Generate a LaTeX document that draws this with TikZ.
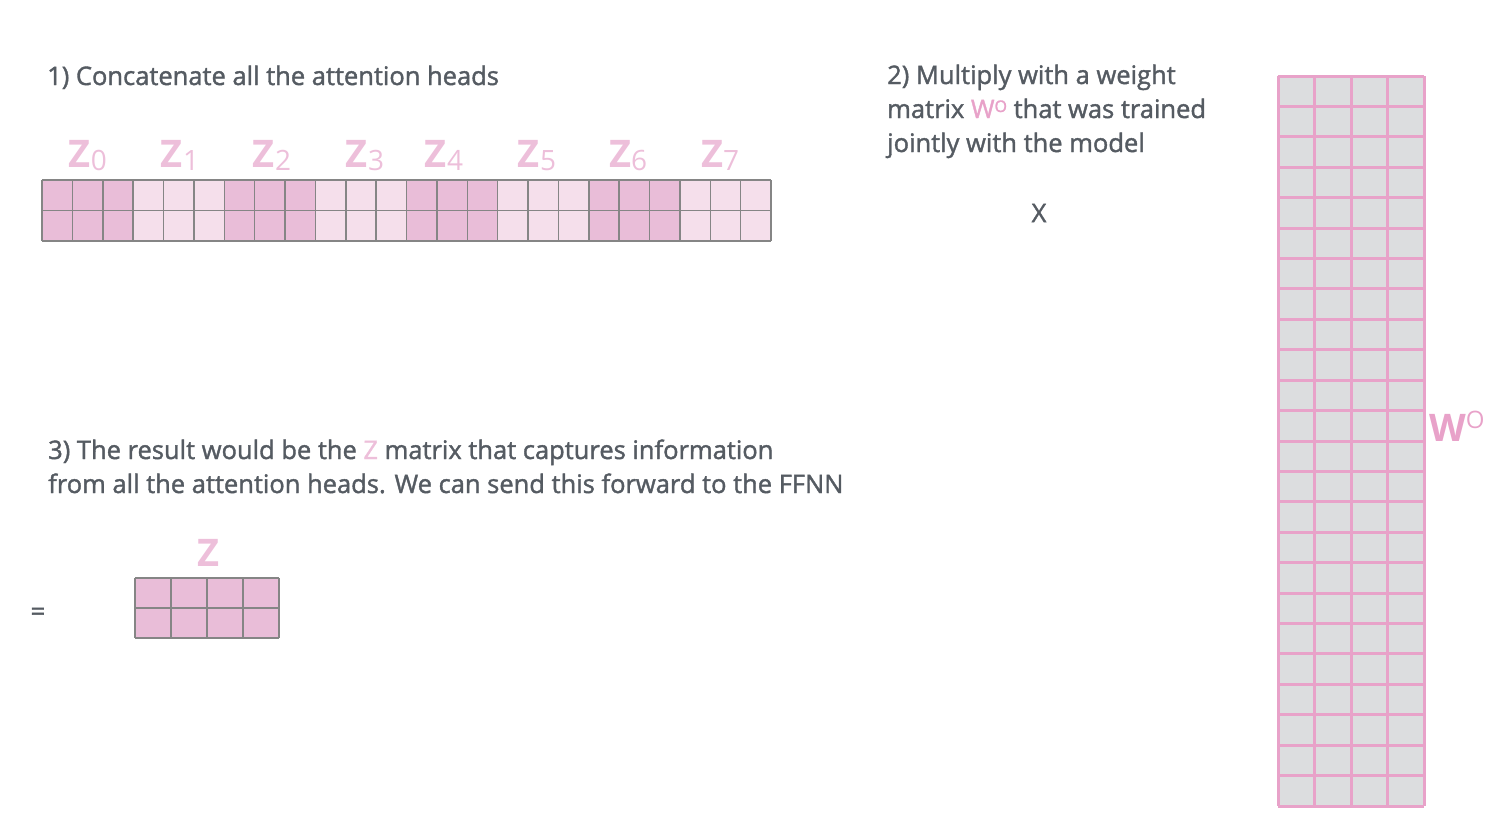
\documentclass[tikz,border=0pt]{standalone}
\usepackage{fontspec}
\setmainfont{Open Sans}
\newfontfamily\captionfont{Open Sans}[FakeBold=1.5]
\usetikzlibrary{positioning}
\definecolor{textgray}{HTML}{555B62}
\definecolor{zpink}{HTML}{EDBFDA}
\definecolor{wpink}{HTML}{E8A2C9}
\definecolor{darkcell}{HTML}{E9BDD8}
\definecolor{lightcell}{HTML}{F5DFEB}
\definecolor{cellgray}{HTML}{858585}
\definecolor{wcell}{HTML}{DCDDDF}
\tikzstyle{caption} = [anchor=base west, align=left, inner sep=0pt, text=textgray, font=\captionfont\fontsize{25.5}{34}\selectfont]
\tikzstyle{headlabel} = [anchor=base, inner sep=0pt, text=zpink, font=\fontsize{38}{38}\selectfont]
\tikzstyle{cellline} = [draw=cellgray, line width=1.5pt]
\tikzstyle{wline} = [draw=wpink, line width=3pt]
\newcommand{\headname}[1]{{\bfseries Z}\raisebox{-3pt}{\fontsize{28}{28}\selectfont #1}}

\begin{document}
\begin{tikzpicture}[x=1pt, y=-1pt]
    \useasboundingbox (0,0) rectangle (1504,830);
    % Captions
    \node [caption] (concat) at (47,85) {1) Concatenate all the attention heads};
    \node [caption] (multiply) at (887,152) {2) Multiply with a weight\\matrix \textcolor{wpink}{W\raisebox{6pt}{\fontsize{16}{16}\selectfont O}} that was trained\\jointly with the model};
    \node [caption] (result) at (48,493) {3) The result would be the \textcolor{zpink}{Z} matrix that captures information\\from all the attention heads. We can send this forward to the FFNN};

    % Concatenated heads
    \foreach \h in {0,2,4,6}
        \fill [darkcell] ({42+\h*91.125},180) rectangle ++(91.125,61);
    \foreach \h in {1,3,5,7}
        \fill [lightcell] ({42+\h*91.125},180) rectangle ++(91.125,61);
    \foreach \c in {0,...,24}
        \draw [cellline] ({42+\c*30.375},180) -- ++(0,61);
    \foreach \r in {0,1,2}
        \draw [cellline] (42,{180+\r*30.5}) -- (771,{180+\r*30.5});
    \foreach \h/\x in {0/88, 1/180, 2/272, 3/365, 4/444, 5/537, 6/628, 7/720}
        \node [headlabel] (z\h) at (\x,167) {\headname{\h}};

    % Weight matrix
    \fill [wcell] (1278,76) rectangle (1424,806);
    \foreach \c in {0,...,4}
        \draw [wline] ({1278+\c*36.5},76) -- ++(0,730);
    \foreach \r in {0,...,24}
        \draw [wline] (1278,{76+\r*30.4167}) -- ++(146,0);
    \node [headlabel, anchor=base west, text=wpink] (wlabel) at (1429,441) {{\bfseries W}\raisebox{13pt}{\fontsize{24}{24}\selectfont O}};
    \node [caption, anchor=center] (times) at (1039,213) {X};

    % Result
    \fill [darkcell] (135,578) rectangle (279,638);
    \foreach \c in {0,...,4}
        \draw [cellline] ({135+\c*36},578) -- ++(0,60);
    \foreach \r in {0,1,2}
        \draw [cellline] (135,{578+\r*30}) -- (279,{578+\r*30});
    \node [headlabel] (zresult) at (208,566) {\bfseries Z};
    \node [caption, anchor=center] (equals) at (38,614) {=};
\end{tikzpicture}
\end{document}
